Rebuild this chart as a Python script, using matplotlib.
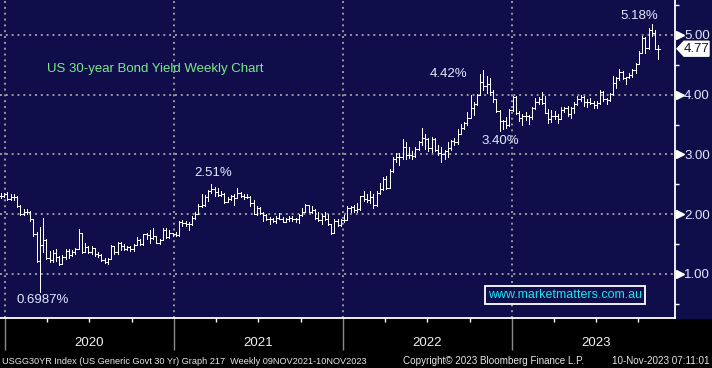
import matplotlib
matplotlib.use('Agg')
import matplotlib.pyplot as plt
import matplotlib.dates as mdates
from matplotlib.patches import Polygon, Rectangle
from matplotlib.transforms import blended_transform_factory
import numpy as np
import pandas as pd

# weekly OHLC bars (one per week, first bar dated 23 Dec 2019)
first_week = '2019-12-23'
closes = [
    2.31, 2.34, 2.26, 2.28, 2.29, 2.14, 2.00, 2.03, 2.04, 1.91, 1.67, 1.22, 1.49, 1.56,
    1.27, 1.23, 1.35, 1.29, 1.17, 1.28, 1.39, 1.31, 1.37, 1.41, 1.68, 1.37, 1.45, 1.37,
    1.43, 1.33, 1.32, 1.23, 1.19, 1.25, 1.46, 1.36, 1.52, 1.47, 1.42, 1.45, 1.41, 1.49,
    1.57, 1.50, 1.66, 1.65, 1.60, 1.64, 1.52, 1.57, 1.74, 1.61, 1.68, 1.66, 1.65, 1.87,
    1.85, 1.84, 1.83, 1.94, 2.01, 2.14, 2.15, 2.29, 2.38, 2.42, 2.37, 2.32, 2.34, 2.20,
    2.26, 2.30, 2.27, 2.36, 2.30, 2.28, 2.29, 2.19, 2.01, 2.10, 2.02, 1.99, 1.91, 1.92,
    1.89, 1.94, 1.92, 1.87, 1.91, 1.94, 1.91, 1.91, 1.98, 2.04, 2.16, 2.04, 2.07, 1.93,
    1.90, 1.97, 1.91, 1.83, 1.68, 1.88, 1.82, 1.90, 1.90, 2.11, 2.12, 2.07, 2.08, 2.30,
    2.25, 2.24, 2.29, 2.15, 2.36, 2.42, 2.59, 2.44, 2.72, 2.92, 2.95, 2.96, 3.13, 2.99,
    2.99, 2.97, 3.09, 3.20, 3.28, 3.26, 3.11, 3.26, 3.08, 3.02, 3.00, 3.06, 3.11, 3.22,
    3.20, 3.35, 3.45, 3.52, 3.61, 3.78, 3.85, 4.00, 4.21, 4.15, 4.18, 4.05, 3.92, 3.72,
    3.56, 3.56, 3.49, 3.75, 3.96, 3.70, 3.61, 3.65, 3.64, 3.62, 3.78, 3.88, 3.93, 3.86,
    3.70, 3.60, 3.64, 3.65, 3.60, 3.74, 3.77, 3.68, 3.78, 3.85, 3.93, 3.96, 3.88, 3.88,
    3.86, 3.82, 3.86, 4.04, 3.93, 3.91, 4.01, 4.20, 4.28, 4.38, 4.28, 4.29, 4.33, 4.42,
    4.52, 4.70, 4.95, 4.78, 5.09, 5.04, 4.77, 4.77,
]
highs = [
    2.35, 2.36, 2.37, 2.34, 2.33, 2.30, 2.16, 2.08, 2.08, 2.05, 1.92, 1.70, 1.78, 1.94,
    1.58, 1.39, 1.40, 1.42, 1.30, 1.31, 1.42, 1.41, 1.40, 1.44, 1.75, 1.67, 1.52, 1.47,
    1.47, 1.44, 1.36, 1.33, 1.26, 1.27, 1.48, 1.47, 1.54, 1.54, 1.50, 1.47, 1.47, 1.50,
    1.61, 1.58, 1.67, 1.68, 1.73, 1.77, 1.64, 1.59, 1.76, 1.76, 1.73, 1.69, 1.70, 1.89,
    1.90, 1.88, 1.86, 1.96, 2.04, 2.17, 2.33, 2.32, 2.40, 2.51, 2.45, 2.43, 2.38, 2.35,
    2.29, 2.32, 2.33, 2.43, 2.37, 2.33, 2.34, 2.30, 2.23, 2.14, 2.12, 2.03, 2.00, 1.95,
    1.93, 1.96, 2.02, 1.95, 1.94, 1.97, 1.96, 1.94, 2.00, 2.11, 2.17, 2.16, 2.14, 2.08,
    2.03, 2.00, 2.03, 2.01, 1.84, 1.91, 1.91, 1.92, 1.98, 2.13, 2.14, 2.16, 2.18, 2.31,
    2.38, 2.33, 2.38, 2.33, 2.38, 2.52, 2.62, 2.64, 2.75, 2.95, 3.02, 3.02, 3.26, 3.20,
    3.13, 3.06, 3.13, 3.22, 3.45, 3.34, 3.28, 3.29, 3.27, 3.15, 3.13, 3.08, 3.21, 3.24,
    3.28, 3.42, 3.51, 3.55, 3.71, 4.00, 3.88, 4.01, 4.34, 4.42, 4.31, 4.28, 4.08, 3.91,
    3.75, 3.57, 3.62, 3.76, 3.98, 3.97, 3.72, 3.68, 3.71, 3.66, 3.79, 3.94, 3.96, 4.04,
    3.98, 3.76, 3.75, 3.72, 3.67, 3.79, 3.80, 3.81, 3.79, 3.87, 3.97, 4.00, 3.97, 3.92,
    3.94, 3.90, 3.89, 4.08, 4.06, 3.95, 4.03, 4.31, 4.29, 4.43, 4.40, 4.30, 4.37, 4.43,
    4.53, 4.73, 4.98, 4.96, 5.11, 5.18, 5.08, 4.83,
]
lows = [
    2.27, 2.29, 2.24, 2.23, 2.24, 2.12, 1.99, 1.99, 2.01, 1.89, 1.63, 1.20, 0.70, 1.36,
    1.25, 1.20, 1.20, 1.21, 1.14, 1.16, 1.25, 1.27, 1.30, 1.34, 1.41, 1.35, 1.37, 1.35,
    1.34, 1.30, 1.28, 1.21, 1.18, 1.17, 1.24, 1.33, 1.33, 1.40, 1.40, 1.40, 1.39, 1.39,
    1.49, 1.49, 1.49, 1.58, 1.52, 1.59, 1.51, 1.50, 1.57, 1.60, 1.60, 1.63, 1.64, 1.64,
    1.80, 1.80, 1.74, 1.81, 1.92, 2.00, 2.12, 2.13, 2.22, 2.35, 2.31, 2.30, 2.31, 2.18,
    2.20, 2.23, 2.15, 2.27, 2.28, 2.26, 2.27, 2.14, 2.00, 1.98, 2.01, 1.89, 1.90, 1.84,
    1.87, 1.85, 1.91, 1.86, 1.86, 1.89, 1.88, 1.86, 1.85, 1.97, 2.03, 2.03, 2.02, 1.92,
    1.88, 1.84, 1.90, 1.82, 1.66, 1.68, 1.80, 1.80, 1.87, 1.90, 2.04, 2.04, 2.04, 2.07,
    2.22, 2.20, 2.19, 2.11, 2.13, 2.33, 2.41, 2.42, 2.43, 2.71, 2.88, 2.83, 2.93, 2.93,
    2.94, 2.93, 2.96, 3.07, 3.16, 3.09, 3.05, 3.04, 3.05, 2.99, 2.87, 2.93, 2.96, 3.07,
    3.15, 3.18, 3.34, 3.42, 3.50, 3.61, 3.66, 3.83, 3.99, 4.08, 4.03, 3.99, 3.88, 3.71,
    3.40, 3.42, 3.44, 3.47, 3.73, 3.67, 3.56, 3.49, 3.58, 3.51, 3.59, 3.76, 3.84, 3.85,
    3.69, 3.53, 3.54, 3.59, 3.53, 3.59, 3.71, 3.65, 3.61, 3.70, 3.82, 3.90, 3.81, 3.80,
    3.84, 3.78, 3.78, 3.84, 3.89, 3.84, 3.90, 4.00, 4.11, 4.25, 4.27, 4.18, 4.28, 4.30,
    4.37, 4.51, 4.70, 4.69, 4.77, 4.98, 4.76, 4.59,
]
last_price = 4.77

years = [2020, 2021, 2022, 2023]
y_levels = [1, 2, 3, 4, 5]
y_minor = [0.5, 1.5, 2.5, 3.5, 4.5, 5.5]

title = 'US 30-year Bond Yield Weekly Chart'
# label text, centre x px, centre y px
callouts = [('5.18%', 639, 16), ('4.42%', 448, 74), ('3.40%', 500, 141),
            ('2.51%', 213, 173), ('0.6987%', 43, 300)]
footer_left = 'USGG30YR Index (US Generic Govt 30 Yr) Graph 217  Weekly 09NOV2021-10NOV2023'
footer_mid = 'Copyright\u00a9 2023 Bloomberg Finance L.P.'
footer_right = '10-Nov-2023 07:11:01'
watermark = 'www.marketmatters.com.au'

navy = '#0f0d4a'
label_col = '#e2eaff'

plt.rcParams['font.family'] = ['Liberation Sans', 'DejaVu Sans']

W, H = 712, 368
fig = plt.figure(figsize=(W / 100, H / 100), dpi=100)
fig.patch.set_facecolor('black')
fig.add_artist(Rectangle((0, 50 / H), 1, 318 / H, transform=fig.transFigure,
                         color=navy, zorder=0))

ax = fig.add_axes([0, 50 / H, 675 / W, 318 / H])
ax.set_facecolor(navy)

dates = pd.date_range(first_week, periods=len(closes), freq='7D')
x = mdates.date2num(dates)
c = np.array(closes)
opens = np.r_[c[0], c[:-1]]
half = 2.6

bar_kw = dict(color='white', lw=0.7, zorder=3, antialiased=False)
ax.vlines(x, lows, highs, **bar_kw)
ax.hlines(opens, x - half, x, **bar_kw)
ax.hlines(c, x, x + half, **bar_kw)

ax.set_xlim(mdates.date2num(pd.Timestamp('2019-12-21')),
            mdates.date2num(pd.Timestamp('2023-12-19')))
ax.set_ylim(0.26, 5.586)

# x axis: year lines, quarter ticks
year_starts = mdates.date2num([pd.Timestamp(f'{y}-01-01') for y in years])
quarters = mdates.date2num([pd.Timestamp(f'{y}-{m:02d}-01') for y in years for m in (4, 7, 10)])
ax.set_xticks(year_starts)
ax.set_xticklabels([])
ax.set_xticks(quarters, minor=True)
ax.tick_params(axis='x', which='major', length=23, width=1, color='#8a8a8a', direction='out')
ax.tick_params(axis='x', which='minor', length=3, width=1, color='white', direction='out')

blend_xa = blended_transform_factory(ax.transData, ax.transAxes)
for y in years:
    ax.text(mdates.date2num(pd.Timestamp(f'{y}-07-01')), -25 / 318, str(y),
            transform=blend_xa, ha='center', va='center', color='#f2f2f2', fontsize=9.5)

# y axis on the right
ax.yaxis.tick_right()
ax.set_yticks(y_levels)
ax.set_yticklabels([f'{v:.2f}' for v in y_levels])
ax.set_yticks(y_minor, minor=True)
ax.tick_params(axis='y', which='major', length=0, pad=6.5, labelcolor=label_col, labelsize=9.5)
ax.tick_params(axis='y', which='minor', length=3, width=1, color='white', direction='out')

ax.grid(axis='both', which='major', color='#9a9a9a', ls=(0, (1, 2)), lw=1.4)
ax.set_axisbelow(True)

for s in ('left', 'top'):
    ax.spines[s].set_visible(False)
for s in ('bottom', 'right'):
    ax.spines[s].set_color('white')
    ax.spines[s].set_linewidth(1.3)

blend_ad = blended_transform_factory(ax.transAxes, ax.transData)
ax.plot([1 + 5 / 675] * len(y_levels), y_levels, ls='none', marker='>', ms=5.5,
        color='white', transform=blend_ad, clip_on=False, zorder=5)

# last price flag
hh = 0.125
flag = Polygon([(1 + 2 / 675, last_price), (1 + 9 / 675, last_price + hh),
                (709 / 675, last_price + hh), (709 / 675, last_price - hh),
                (1 + 9 / 675, last_price - hh)],
               closed=True, transform=blend_ad, facecolor='white', edgecolor='white',
               clip_on=False, zorder=6)
ax.add_patch(flag)
ax.text((684 + 709) / 2 / 675, last_price, f'{last_price:.2f}', transform=blend_ad,
        ha='center', va='center', fontsize=9.5, color='#10102a', zorder=7, clip_on=False)

def fxy(px, py):
    return px / W, 1 - py / H

fig.text(*fxy(47, 69), title, ha='left', va='center', color='#7ee88a', fontsize=9.5)

for txt, px, py in callouts:
    fig.text(*fxy(px, py), txt, ha='center', va='center', color=label_col, fontsize=9.5)

fig.text(*fxy(565, 295), watermark, ha='center', va='center', color='#19e6f0', fontsize=9,
         bbox=dict(boxstyle='square,pad=0.25', facecolor=navy, edgecolor='white', lw=1.3))

fig.text(*fxy(2, 361), footer_left, ha='left', va='center', color='#e6e6e6', fontsize=6.6)
fig.text(*fxy(403, 361), footer_mid, ha='left', va='center', color='#e6e6e6', fontsize=7.1)
fig.text(*fxy(710, 361), footer_right, ha='right', va='center', color='#e6e6e6', fontsize=7.1)

fig.savefig('out.png', dpi=100, facecolor=fig.get_facecolor())
